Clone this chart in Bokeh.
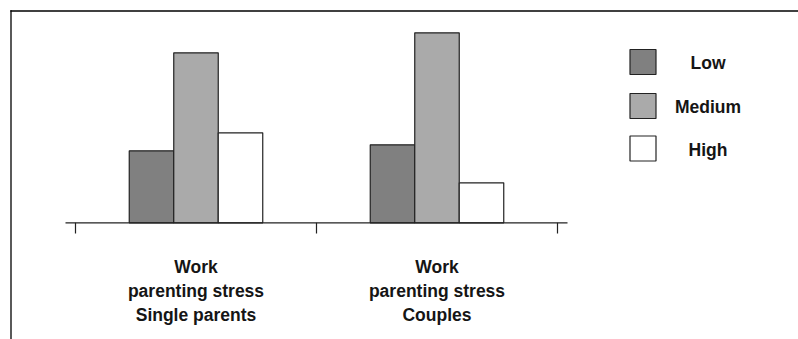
from bokeh.plotting import figure
from bokeh.models import Range1d
from bokeh.core.properties import value
from bokeh.embed import file_html
from bokeh.resources import INLINE

# ---- data ----
categories = ["Work\nparenting stress\nSingle parents", "Work\nparenting stress\nCouples"]
series_names = ["Low", "Medium", "High"]
low = [7.2, 7.8]
medium = [17.0, 19.0]
high = [9.0, 4.0]
series_colors = ["#808080", "#aaaaaa", "#ffffff"]

FONT = "Liberation Sans"

x_lo, x_hi = -75 / 241, 3.0
y_lo, y_hi = -11.67, 22.23
p = figure(width=798, height=339, output_backend="svg", toolbar_location=None,
           x_range=Range1d(x_lo, x_hi), y_range=Range1d(y_lo, y_hi),
           min_border=0)
p.axis.visible = False
p.grid.visible = False
p.outline_line_color = None
p.background_fill_color = "white"
p.border_fill_color = "white"

# frame lines (left and top), meeting at the top-left corner
fx, fy = -64.5 / 241, 21.18
p.segment(x0=[fx, fx], y0=[fy, fy], x1=[fx, x_hi + 0.1], y1=[y_lo - 1, fy],
          line_color="black", line_width=1.3, line_cap="square")

bw = 44.5 / 241
centers = [i + 0.5 for i in range(len(categories))]
for k, (vals, col) in enumerate(zip([low, medium, high], series_colors)):
    xs = [c + (k - 1) * bw for c in centers]
    p.vbar(x=xs, top=vals, bottom=0, width=bw, fill_color=col, line_color="#222222", line_width=1.2)

# baseline axis and ticks
n = len(categories)
p.segment(x0=[-10 / 241], y0=[0], x1=[n + 10 / 241], y1=[0], line_color="#222222", line_width=1.2)
p.segment(x0=list(range(n + 1)), y0=[0] * (n + 1), x1=list(range(n + 1)), y1=[-1.07] * (n + 1),
          line_color="#222222", line_width=1.2)

# category labels
tx, ty, tt = [], [], []
for c, lab in zip(centers, categories):
    for j, line in enumerate(lab.split("\n")):
        tx.append(c)
        ty.append(-4.44 - 2.38 * j)
        tt.append(line)
p.text(x=tx, y=ty, text=tt, text_align="center", text_baseline="middle",
       text_font=value(FONT), text_font_style="bold", text_font_size="17.5px", text_color="#151515")

# legend
lx = (642.5 - 75) / 241
ly = [16.08, 11.68, 7.43]
p.rect(x=[lx] * 3, y=ly, width=26, height=25, width_units="screen", height_units="screen",
       fill_color=series_colors, line_color="#222222", line_width=1.2)
p.text(x=[(707.5 - 75) / 241] * 3, y=[v - 0.1 for v in ly], text=series_names, text_align="center",
       text_baseline="middle", text_font=value(FONT), text_font_style="bold",
       text_font_size="17.5px", text_color="#151515")

open("out.html", "w").write(file_html(p, INLINE))
